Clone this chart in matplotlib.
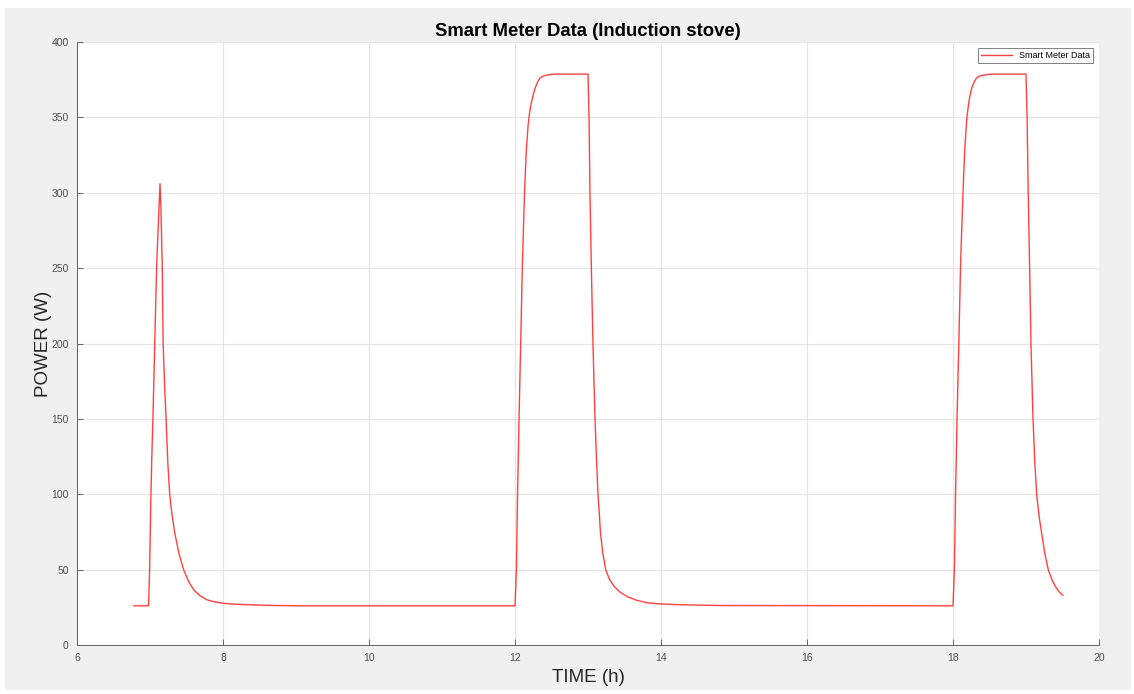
import numpy as np
import matplotlib.pyplot as plt
from matplotlib.patches import Rectangle

# smart meter readings: time of day (h) and power draw (W)
time_h = [
    # short first heating burst
    6.78, 6.98, 6.995, 7.01, 7.025, 7.04, 7.065, 7.09, 7.115, 7.137,
    7.15, 7.168, 7.18, 7.20, 7.22, 7.245, 7.27, 7.30, 7.34, 7.40,
    7.46, 7.53, 7.60, 7.69, 7.78, 7.89, 8.0, 8.15, 8.3, 8.6, 9.0,
    # second cycle
    12.0, 12.005, 12.01, 12.02, 12.035, 12.055, 12.078, 12.10, 12.13, 12.155,
    12.18, 12.205, 12.23, 12.255, 12.28, 12.31, 12.34, 12.38, 12.43, 12.49,
    12.55, 13.0, 13.014, 13.027, 13.046, 13.068, 13.096, 13.115, 13.137, 13.155,
    13.17, 13.20, 13.242, 13.29, 13.356, 13.44, 13.54, 13.66, 13.81, 14.0,
    14.27, 14.8,
    # third cycle
    18.0, 18.005, 18.01, 18.02, 18.035, 18.055, 18.08, 18.105, 18.137, 18.16,
    18.19, 18.22, 18.24, 18.26, 18.29, 18.32, 18.36, 18.41, 18.48, 18.55,
    19.0, 19.015, 19.03, 19.05, 19.068, 19.096, 19.12, 19.146, 19.18, 19.215,
    19.26, 19.305, 19.35, 19.40, 19.45, 19.50,
]
power_w = [
    26, 26, 50, 94, 125, 150, 200, 250, 280, 306,
    290, 250, 200, 172, 150, 120, 100, 87, 74, 60,
    50, 42, 36.5, 32.5, 30, 28.6, 27.7, 27.1, 26.8, 26.3, 26,
    26, 32, 38, 52, 100, 150, 200, 250, 300, 328,
    345, 355, 361, 366, 370, 373.5, 376, 377.3, 378, 378.5,
    378.7, 378.7, 350, 300, 250, 200, 150, 125, 100, 87,
    75, 62, 50, 44, 39, 35, 32, 29.8, 28, 27.2,
    26.7, 26.2,
    26, 32, 38, 52, 100, 150, 200, 255, 300, 328,
    350, 361, 366, 370, 373.5, 376, 377.3, 378, 378.5, 378.7,
    378.7, 350, 300, 250, 200, 150, 122, 100, 85, 74,
    60, 50, 44, 39, 35.5, 33,
]

x_ticks = np.arange(6, 21, 2)
y_ticks = np.arange(0, 401, 50)

plt.rcParams['font.family'] = ['Liberation Sans', 'DejaVu Sans']

W, H = 1134, 694
fig = plt.figure(figsize=(W / 100, H / 100), dpi=100, facecolor='white')
# grey window background
fig.patches.append(Rectangle((5 / W, 4 / H), 1126 / W, 682 / H, transform=fig.transFigure,
                             facecolor='#f0f0f0', edgecolor='none', zorder=-10))

ax = fig.add_axes([77 / W, (H - 645) / H, 1022 / W, 603 / H])
ax.set_facecolor('white')

ax.plot(time_h, power_w, color='#ff2020', lw=1.0, alpha=0.85, label='Smart Meter Data')

ax.set_xlim(6, 20)
ax.set_ylim(0, 400)
ax.set_xticks(x_ticks)
ax.set_yticks(y_ticks)
ax.grid(True, color='#e4e4e4', lw=0.8)
ax.set_axisbelow(True)

ax.tick_params(direction='in', length=4, width=0.6, colors='#505050', labelsize=7.5, pad=6)
for side in ['top', 'right']:
    ax.spines[side].set_visible(False)
for side in ['left', 'bottom']:
    ax.spines[side].set_color('#606060')
    ax.spines[side].set_linewidth(0.7)

ax.set_title('Smart Meter Data (Induction stove)', fontsize=13.3, fontweight='bold', pad=4)
ax.set_xlabel('TIME (h)', fontsize=13.5, color='#262626')
ax.set_ylabel('POWER (W)', fontsize=13.5, color='#262626')
ax.xaxis.set_label_coords(0.5, -0.040)
ax.yaxis.set_label_coords(-0.024, 0.5)

leg = ax.legend(loc='upper right', fontsize=6.5, handlelength=3.4, fancybox=False,
                edgecolor='#808080', framealpha=1, borderpad=0.3, borderaxespad=0.7)
leg.get_frame().set_linewidth(0.7)

plt.savefig('out.png', dpi=100, facecolor=fig.get_facecolor())
